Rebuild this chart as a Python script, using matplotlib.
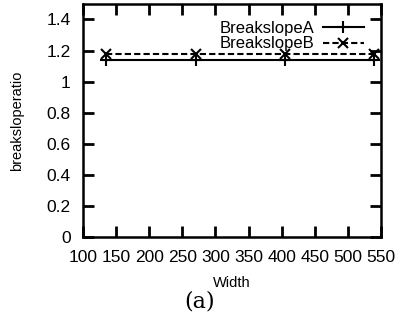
import matplotlib
matplotlib.use('Agg')
import matplotlib.pyplot as plt

widths = [135, 270, 405, 540]
breakslope_a = [1.14, 1.14, 1.14, 1.14]
breakslope_b = [1.18, 1.18, 1.18, 1.18]
xticks = [100, 150, 200, 250, 300, 350, 400, 450, 500, 550]
yticks = [0, 0.2, 0.4, 0.6, 0.8, 1, 1.2, 1.4]
ytick_labels = ['0', '0.2', '0.4', '0.6', '0.8', '1', '1.2', '1.4']

plt.rcParams['font.family'] = ['Liberation Sans', 'DejaVu Sans']

fig = plt.figure(figsize=(3.96, 3.24), dpi=100)
ax = fig.add_axes([0.2096, 0.2685, 0.7524, 0.7195])

ax.plot(widths, breakslope_a, color='black', linestyle='-', linewidth=1.5,
        marker='+', markersize=8, markeredgewidth=1.5, label='BreakslopeA')
ax.plot(widths, breakslope_b, color='black', linestyle=(0, (3, 1.5)), linewidth=1.5,
        marker='x', markersize=7, markeredgewidth=1.5, label='BreakslopeB')

ax.set_xlim(100, 550)
ax.set_ylim(0, 1.5)
ax.set_xticks(xticks)
ax.set_yticks(yticks)
ax.set_yticklabels(ytick_labels)
ax.tick_params(direction='in', length=8, width=2, top=True, right=True,
               labelsize=12.5)
ax.tick_params(axis='x', pad=9)
ax.tick_params(axis='y', pad=9)
for s in ax.spines.values():
    s.set_linewidth(1.8)

ax.set_xlabel('Width', fontsize=10.5, labelpad=8)
ax.set_ylabel('breaksloperatio', fontsize=10.5, labelpad=16)

ax.legend(loc='upper right', frameon=False, markerfirst=False, fontsize=12,
          handlelength=2.5, borderaxespad=0.6, labelspacing=0.05, handletextpad=0.5)

fig.text(0.505, 0.05, '(a)', fontsize=16, family='DejaVu Serif', ha='center')

fig.savefig('out.png', dpi=100)
